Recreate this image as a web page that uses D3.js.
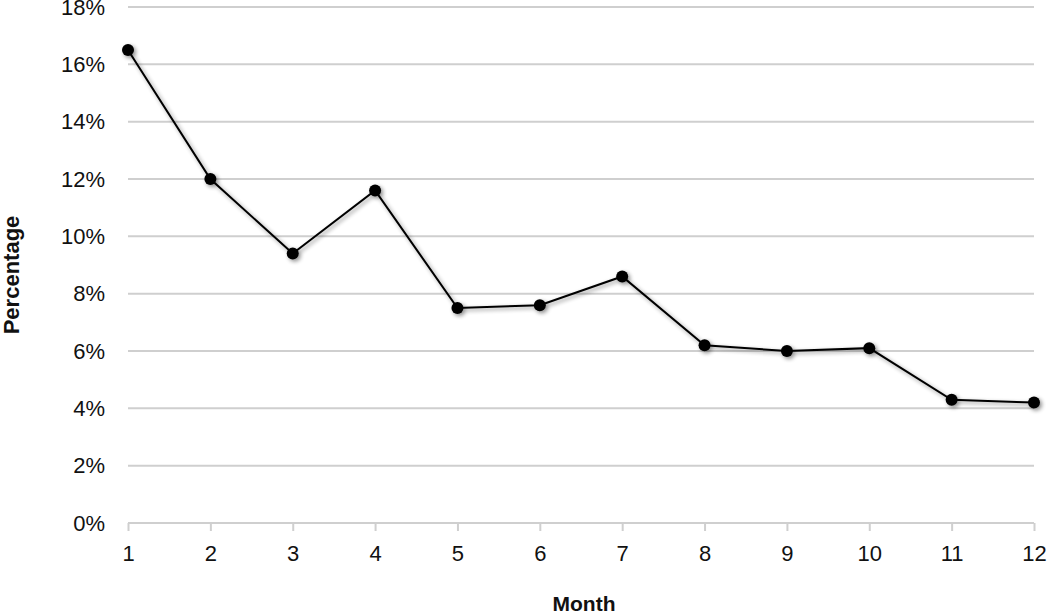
<!DOCTYPE html>
<html><head><meta charset="utf-8">
<script src="https://cdn.jsdelivr.net/npm/d3@7"></script>
<style>body{margin:0;background:#fff}svg{display:block;font-family:"Liberation Sans",Arial,sans-serif}</style>
</head><body><svg id="c" width="1050" height="613"></svg>
<script>
const months = [1,2,3,4,5,6,7,8,9,10,11,12];
const percentages = [16.5,12.0,9.4,11.6,7.5,7.6,8.6,6.2,6.0,6.1,4.3,4.2];
const yTicks = [0,2,4,6,8,10,12,14,16,18];

const svg = d3.select("#c");
const x = d3.scalePoint().domain(months).range([128,1034]);
const y = d3.scaleLinear().domain([0,18]).range([523,7]);

const defs = svg.append("defs");
const f = defs.append("filter").attr("id","sh").attr("x","-50%").attr("y","-50%").attr("width","200%").attr("height","200%");
f.append("feGaussianBlur").attr("in","SourceAlpha").attr("stdDeviation",2.2).attr("result","b");
f.append("feOffset").attr("in","b").attr("dx",1.5).attr("dy",2).attr("result","o");
f.append("feComponentTransfer").attr("in","o").attr("result","oa").append("feFuncA").attr("type","linear").attr("slope",0.45);
const m = f.append("feMerge"); m.append("feMergeNode").attr("in","oa"); m.append("feMergeNode").attr("in","SourceGraphic");

// gridlines
svg.append("g").selectAll("line").data(yTicks).join("line")
  .attr("x1",128).attr("x2",1034).attr("y1",d=>y(d)).attr("y2",d=>y(d))
  .attr("stroke","#cfcfcf").attr("stroke-width",2);

// y axis labels
const ya = svg.append("g").attr("transform","translate(128,0)")
  .call(d3.axisLeft(y).tickValues(yTicks).tickSize(0).tickPadding(23).tickFormat(d=>d+"%"));
ya.select(".domain").remove();
ya.selectAll("text").attr("font-size",22).attr("fill","#111").style("font-family","'Liberation Sans',Arial,sans-serif");

// x axis
const xa = svg.append("g").attr("transform","translate(0,523)")
  .call(d3.axisBottom(x).tickSize(8).tickPadding(14));
xa.select(".domain").attr("stroke","#cfcfcf").attr("stroke-width",2).attr("d","M128,0H1034");
xa.selectAll(".tick line").attr("stroke","#cfcfcf").attr("stroke-width",2);
xa.selectAll("text").attr("font-size",22).attr("fill","#111").style("font-family","'Liberation Sans',Arial,sans-serif");

// line + markers
const pts = months.map((mm,i)=>[mm,percentages[i]]);
const g = svg.append("g").attr("filter","url(#sh)");
g.append("path").datum(pts)
  .attr("fill","none").attr("stroke","#000").attr("stroke-width",2)
  .attr("d",d3.line().x(d=>x(d[0])).y(d=>y(d[1])));
g.selectAll("circle").data(pts).join("circle")
  .attr("cx",d=>x(d[0])).attr("cy",d=>y(d[1])).attr("r",6).attr("fill","#000");

// axis titles
svg.append("text").attr("x",584).attr("y",611).attr("text-anchor","middle")
  .attr("font-size",21).attr("font-weight","bold").attr("fill","#111").text("Month");
svg.append("text").attr("transform","translate(19,275) rotate(-90)").attr("text-anchor","middle")
  .attr("font-size",22).attr("font-weight","bold").attr("fill","#111").text("Percentage");
</script></body></html>
